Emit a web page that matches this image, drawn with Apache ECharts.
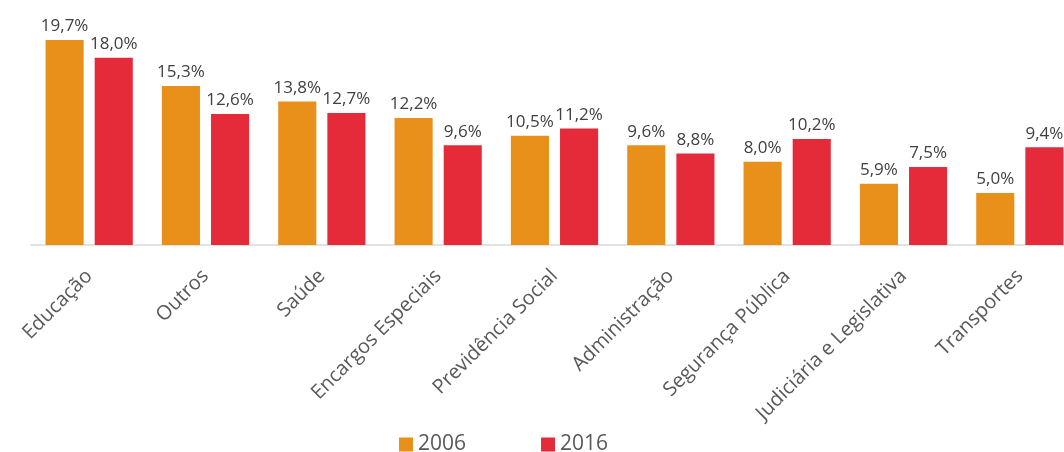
<!DOCTYPE html>
<html>
<head>
<meta charset="utf-8">
<script src="https://cdn.jsdelivr.net/npm/echarts@6/dist/echarts.min.js"></script>
<style>
  html, body { margin: 0; padding: 0; background: #ffffff; }
  #chart { width: 1064px; height: 452px; }
</style>
</head>
<body>
<div id="chart"></div>
<script>
// Participação de cada função no total da despesa (%)
const categories = ['Educação', 'Outros', 'Saúde', 'Encargos Especiais', 'Previdência Social',
  'Administração', 'Segurança Pública', 'Judiciária e Legislativa', 'Transportes'];
const seriesNames = ['2006', '2016'];
const values2006 = [19.7, 15.3, 13.8, 12.2, 10.5, 9.6, 8.0, 5.9, 5.0];
const values2016 = [18.0, 12.6, 12.7, 9.6, 11.2, 8.8, 10.2, 7.5, 9.4];

const FONT = '"Open Sans", "Noto Sans", sans-serif';
const fmtPct = v => v.toFixed(1).replace('.', ',') + '%';

const labelStyle = {
  show: true,
  position: 'top',
  distance: 5,
  color: '#404040',
  fontFamily: FONT,
  fontSize: 17,
  formatter: p => fmtPct(p.value)
};

const chart = echarts.init(document.getElementById('chart'), null, { renderer: 'canvas' });
chart.setOption({
  animation: false,
  backgroundColor: '#ffffff',
  // the plot runs a little past the right edge, so the last bar is cut by the frame
  grid: { left: 31, width: 1047, top: 37, bottom: 207, containLabel: false, outerBoundsMode: 'none' },
  legend: {
    top: 434,
    left: 399,
    padding: 0,
    itemWidth: 14,
    itemHeight: 14,
    itemGap: 75,
    icon: 'rect',
    textStyle: { color: '#595959', fontFamily: FONT, fontSize: 21 },
    data: seriesNames
  },
  xAxis: {
    type: 'category',
    data: categories,
    axisLine: { lineStyle: { color: '#d9d9d9', width: 1.5 } },
    axisTick: { show: false },
    axisLabel: {
      rotate: 45,
      interval: 0,
      margin: 28,
      color: '#595959',
      fontFamily: FONT,
      fontSize: 20
    }
  },
  yAxis: {
    type: 'value',
    min: 0,
    max: 20,
    show: false
  },
  series: [
    {
      name: seriesNames[0],
      type: 'bar',
      data: values2006,
      barGap: '29%',
      barCategoryGap: '25%',
      itemStyle: { color: '#E8901A' },
      label: labelStyle
    },
    {
      name: seriesNames[1],
      type: 'bar',
      data: values2016,
      itemStyle: { color: '#E52B3A' },
      label: labelStyle
    }
  ]
});
</script>
</body>
</html>
